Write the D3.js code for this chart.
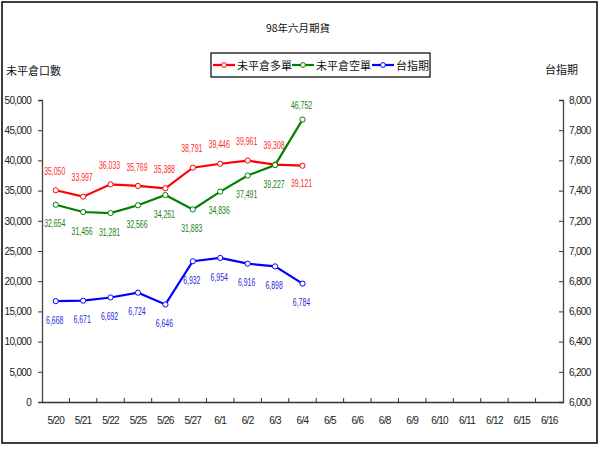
<!DOCTYPE html>
<html><head><meta charset="utf-8">
<script src="https://cdn.jsdelivr.net/npm/d3@7/dist/d3.min.js"></script>
<style>body{margin:0;background:#fff}</style>
</head><body>
<svg id="c" width="600" height="450"></svg>
<script>
const categories = ["5/20","5/21","5/22","5/25","5/26","5/27","6/1","6/2","6/3","6/4","6/5","6/6","6/8","6/9","6/10","6/11","6/12","6/15","6/16"];
const longPositions  = [35050, 33997, 36033, 35769, 35388, 38791, 39446, 39961, 39308, 39121];
const shortPositions = [32654, 31456, 31281, 32566, 34261, 31883, 34836, 37491, 39227, 46752];
const indexFutures   = [6668, 6671, 6692, 6724, 6646, 6932, 6954, 6916, 6898, 6784];
const leftTicks  = [0, 5000, 10000, 15000, 20000, 25000, 30000, 35000, 40000, 45000, 50000];
const rightTicks = [6000, 6200, 6400, 6600, 6800, 7000, 7200, 7400, 7600, 7800, 8000];
const seriesNames = ["未平倉多單", "未平倉空單", "台指期"];
const titleText = "98年六月期貨";
const leftTitle = "未平倉口數";
const rightTitle = "台指期";

const svg = d3.select("#c");
const L = 42, R = 563, T = 100, B = 402;
const numFont = "'Liberation Sans',Arial,sans-serif";
const cjkFont = "'Noto Sans CJK TC','Noto Sans CJK SC',sans-serif";

svg.append("rect").attr("x", 2).attr("y", 2).attr("width", 595).attr("height", 441)
  .attr("fill", "#fff").attr("stroke", "#000").attr("stroke-width", 1.5);

const x = d3.scaleBand().domain(categories).range([L, R]);
const yL = d3.scaleLinear().domain([0, 50000]).range([B, T]);
const yR = d3.scaleLinear().domain([6000, 8000]).range([B, T]);
const cx = d => x(d) + x.bandwidth() / 2;

const gl = svg.append("g").attr("transform", `translate(${L},0)`)
  .call(d3.axisLeft(yL).tickValues(leftTicks).tickFormat(d3.format(",")).tickSize(4).tickPadding(7));
const gr = svg.append("g").attr("transform", `translate(${R},0)`)
  .call(d3.axisRight(yR).tickValues(rightTicks).tickFormat(d3.format(",")).tickSize(-4).tickPadding(6));
const gb = svg.append("g").attr("transform", `translate(0,${B})`)
  .call(d3.axisBottom(x).tickSize(0).tickPadding(15));
svg.append("g").selectAll("line").data(categories.slice(1)).join("line")
  .attr("x1", d => x(d)).attr("x2", d => x(d)).attr("y1", B).attr("y2", B - 4)
  .attr("stroke", "#333").attr("stroke-width", 1);

[gl, gr, gb].forEach(g => {
  g.select(".domain").attr("stroke", "#444").attr("stroke-width", 1.3);
  g.selectAll(".tick line").attr("stroke", "#333");
  g.selectAll("text").attr("font-family", numFont).attr("font-size", 10)
    .attr("letter-spacing", "-0.7px").attr("fill", "#222");
});
gb.select(".domain").attr("stroke", "#333").attr("stroke-width", 1.5);

svg.append("text").attr("x", 298).attr("y", 32).attr("text-anchor", "middle")
  .attr("font-family", cjkFont).attr("font-size", 10.5).attr("fill", "#111").text(titleText);
svg.append("text").attr("x", 6).attr("y", 75)
  .attr("font-family", cjkFont).attr("font-size", 11).attr("fill", "#111").text(leftTitle);
svg.append("text").attr("x", 578).attr("y", 74).attr("text-anchor", "end")
  .attr("font-family", cjkFont).attr("font-size", 11).attr("fill", "#111").text(rightTitle);

const series = [
  {name: seriesNames[0], data: longPositions, color: "#ff0000", label: "#ff2a2a", y: yL,
   off: (i, n) => i === n - 1 ? 18 : -19},
  {name: seriesNames[1], data: shortPositions, color: "#008000", label: "#1a7f1a", y: yL,
   off: (i, n) => i === n - 1 ? -14 : 19},
  {name: seriesNames[2], data: indexFutures, color: "#0000ff", label: "#2a2ae0", y: yR,
   off: () => 19}
];

series.forEach(s => {
  const pts = s.data.map((v, i) => [cx(categories[i]), s.y(v), v, i]);
  svg.append("path").datum(pts)
    .attr("d", d3.line().x(d => d[0]).y(d => d[1]))
    .attr("fill", "none").attr("stroke", s.color).attr("stroke-width", 2.2);
  svg.append("g").selectAll("circle").data(pts).join("circle")
    .attr("cx", d => d[0]).attr("cy", d => d[1]).attr("r", 2.6)
    .attr("fill", "#fff").attr("stroke", s.color).attr("stroke-width", 1);
  svg.append("g").selectAll("text").data(pts).join("text")
    .attr("transform", d => `translate(${d[0] - 1},${d[1] + s.off(d[3], pts.length)}) scale(0.66,1)`)
    .attr("dy", "0.35em").attr("text-anchor", "middle")
    .attr("font-family", numFont).attr("font-size", 10.5).attr("fill", s.label)
    .text(d => d3.format(",")(d[2]));
});

const lg = svg.append("g");
lg.append("rect").attr("x", 211).attr("y", 53).attr("width", 219).attr("height", 24)
  .attr("fill", "#fff").attr("stroke", "#000").attr("stroke-width", 1.2);
const legendX = [213, 292, 372];
series.forEach((s, i) => {
  const x0 = legendX[i];
  lg.append("line").attr("x1", x0).attr("x2", x0 + 22).attr("y1", 65).attr("y2", 65)
    .attr("stroke", s.color).attr("stroke-width", 2.2);
  lg.append("circle").attr("cx", x0 + 11).attr("cy", 65).attr("r", 2.4)
    .attr("fill", "#fff").attr("stroke", s.color);
  lg.append("text").attr("x", x0 + 24).attr("y", 69.5)
    .attr("font-family", cjkFont).attr("font-size", 11).attr("fill", "#111").text(s.name);
});
</script>
</body></html>
